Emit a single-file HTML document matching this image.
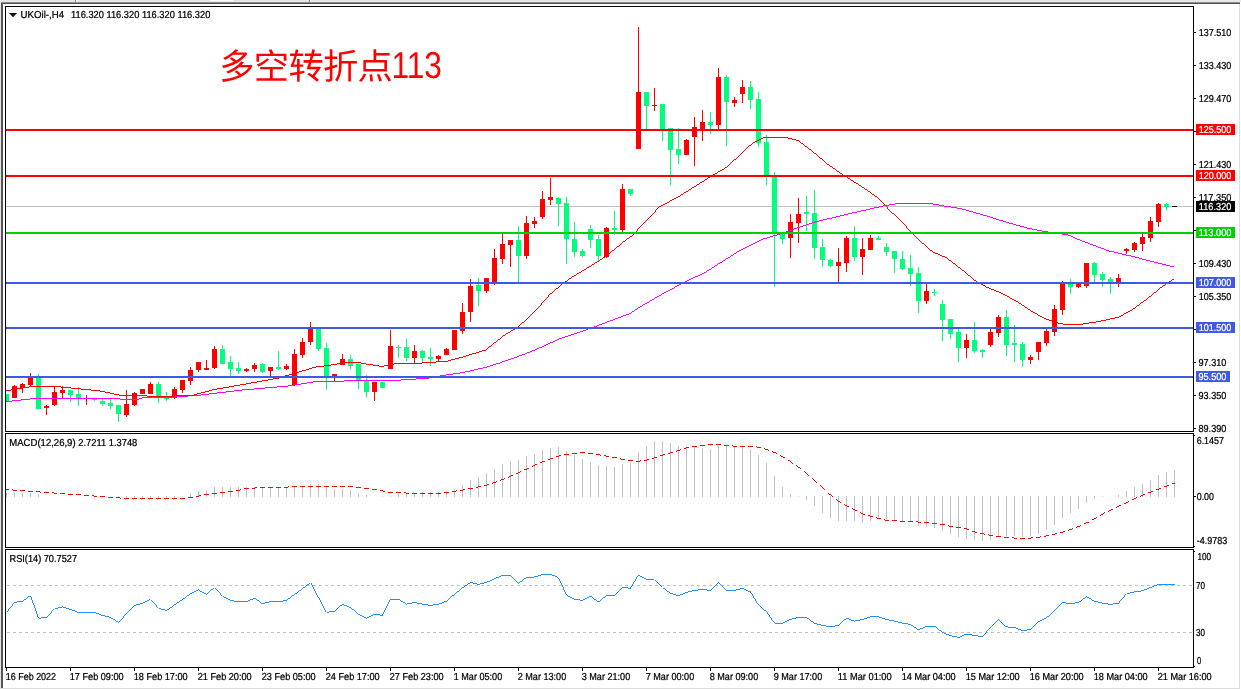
<!DOCTYPE html>
<html lang="zh"><head><meta charset="utf-8"><title>UKOil-,H4</title>
<style>html,body{margin:0;padding:0;background:#fff}body{width:1241px;height:690px;overflow:hidden;position:relative}svg{position:absolute;left:0;top:0;display:block;will-change:transform}text{font-family:"Liberation Sans",Arial,sans-serif;font-size:9px;fill:#000;stroke:#000;stroke-width:.22px;text-rendering:geometricPrecision}.w{fill:#fff;stroke:#fff}.cj{font-family:"Liberation Sans","Noto Sans CJK SC",sans-serif;font-size:35.3px;fill:#FF0000;stroke:none}</style></head><body>
<svg width="1241" height="690" viewBox="0 0 1241 690">
<rect x="0" y="0" width="1241" height="690" fill="#fff"/>
<g shape-rendering="crispEdges">
<rect x="0" y="0" width="1241" height="2" fill="#E6E6E6"/>
<rect x="210" y="0" width="23" height="1" fill="#FFFFFF"/>
<rect x="75" y="0" width="1" height="2" fill="#808080"/><rect x="76" y="0" width="1" height="2" fill="#FFFFFF"/>
<rect x="309" y="0" width="1" height="2" fill="#808080"/><rect x="310" y="0" width="1" height="2" fill="#FFFFFF"/>
<rect x="0" y="2" width="1240" height="1" fill="#8e8e8e"/><rect x="1" y="3" width="1239" height="1" fill="#505050"/>
<rect x="0" y="2" width="1" height="686" fill="#E6E6E6"/>
<rect x="1" y="3" width="2" height="685" fill="#555555"/>
<rect x="1239" y="4" width="1" height="685" fill="#DEDEDE"/>
<rect x="0" y="688" width="1240" height="1" fill="#DEDEDE"/>
</g>
<g shape-rendering="crispEdges">
<rect x="6" y="206" width="1187" height="1" fill="#C0C0C0"/>
</g>
<g shape-rendering="crispEdges">
<rect x="6" y="394" width="1" height="7" fill="#00FF7F"/>
<rect x="6" y="394" width="3" height="7" fill="#00FF7F"/>
<rect x="14" y="385" width="1" height="13" fill="#FF0000"/>
<rect x="12" y="386" width="5" height="12" fill="#FF0000"/>
<rect x="22" y="383" width="1" height="10" fill="#FF0000"/>
<rect x="20" y="384" width="5" height="4" fill="#FF0000"/>
<rect x="30" y="373" width="1" height="13" fill="#FF0000"/>
<rect x="28" y="378" width="5" height="7" fill="#FF0000"/>
<rect x="38" y="374" width="1" height="35" fill="#00FF7F"/>
<rect x="36" y="378" width="5" height="31" fill="#00FF7F"/>
<rect x="46" y="405" width="1" height="10" fill="#FF0000"/>
<rect x="44" y="406" width="5" height="2" fill="#FF0000"/>
<rect x="54" y="386" width="1" height="20" fill="#FF0000"/>
<rect x="52" y="392" width="5" height="13" fill="#FF0000"/>
<rect x="62" y="386" width="1" height="12" fill="#FF0000"/>
<rect x="60" y="390" width="5" height="3" fill="#FF0000"/>
<rect x="70" y="390" width="1" height="12" fill="#00FF7F"/>
<rect x="68" y="390" width="5" height="5" fill="#00FF7F"/>
<rect x="78" y="387" width="1" height="19" fill="#00FF7F"/>
<rect x="76" y="394" width="5" height="4" fill="#00FF7F"/>
<rect x="86" y="395" width="1" height="10" fill="#FF0000"/>
<rect x="94" y="398" width="1" height="3" fill="#00FF7F"/>
<rect x="92" y="398" width="5" height="2" fill="#00FF7F"/>
<rect x="102" y="399" width="1" height="7" fill="#00FF7F"/>
<rect x="100" y="401" width="5" height="3" fill="#00FF7F"/>
<rect x="110" y="399" width="1" height="10" fill="#00FF7F"/>
<rect x="108" y="403" width="5" height="3" fill="#00FF7F"/>
<rect x="118" y="405" width="1" height="17" fill="#00FF7F"/>
<rect x="116" y="405" width="5" height="9" fill="#00FF7F"/>
<rect x="126" y="390" width="1" height="27" fill="#FF0000"/>
<rect x="124" y="404" width="5" height="11" fill="#FF0000"/>
<rect x="134" y="392" width="1" height="14" fill="#FF0000"/>
<rect x="132" y="393" width="5" height="12" fill="#FF0000"/>
<rect x="142" y="389" width="1" height="5" fill="#FF0000"/>
<rect x="140" y="389" width="5" height="5" fill="#FF0000"/>
<rect x="150" y="382" width="1" height="12" fill="#FF0000"/>
<rect x="148" y="384" width="5" height="10" fill="#FF0000"/>
<rect x="158" y="382" width="1" height="21" fill="#00FF7F"/>
<rect x="156" y="384" width="5" height="12" fill="#00FF7F"/>
<rect x="166" y="392" width="1" height="9" fill="#00FF7F"/>
<rect x="164" y="397" width="5" height="2" fill="#00FF7F"/>
<rect x="174" y="387" width="1" height="12" fill="#FF0000"/>
<rect x="172" y="389" width="5" height="9" fill="#FF0000"/>
<rect x="182" y="380" width="1" height="13" fill="#FF0000"/>
<rect x="180" y="380" width="5" height="10" fill="#FF0000"/>
<rect x="190" y="367" width="1" height="18" fill="#FF0000"/>
<rect x="188" y="370" width="5" height="11" fill="#FF0000"/>
<rect x="198" y="362" width="1" height="10" fill="#FF0000"/>
<rect x="196" y="362" width="5" height="8" fill="#FF0000"/>
<rect x="206" y="360" width="1" height="10" fill="#FF0000"/>
<rect x="204" y="368" width="5" height="2" fill="#FF0000"/>
<rect x="214" y="346" width="1" height="23" fill="#FF0000"/>
<rect x="212" y="349" width="5" height="19" fill="#FF0000"/>
<rect x="222" y="345" width="1" height="19" fill="#00FF7F"/>
<rect x="220" y="349" width="5" height="15" fill="#00FF7F"/>
<rect x="230" y="356" width="1" height="20" fill="#00FF7F"/>
<rect x="228" y="362" width="5" height="7" fill="#00FF7F"/>
<rect x="238" y="362" width="1" height="12" fill="#00FF7F"/>
<rect x="236" y="368" width="5" height="3" fill="#00FF7F"/>
<rect x="246" y="368" width="1" height="4" fill="#FF0000"/>
<rect x="244" y="369" width="5" height="2" fill="#FF0000"/>
<rect x="254" y="363" width="1" height="9" fill="#FF0000"/>
<rect x="252" y="365" width="5" height="4" fill="#FF0000"/>
<rect x="262" y="363" width="1" height="10" fill="#00FF7F"/>
<rect x="260" y="364" width="5" height="8" fill="#00FF7F"/>
<rect x="270" y="367" width="1" height="9" fill="#FF0000"/>
<rect x="268" y="367" width="5" height="4" fill="#FF0000"/>
<rect x="278" y="351" width="1" height="19" fill="#00FF7F"/>
<rect x="276" y="367" width="5" height="2" fill="#00FF7F"/>
<rect x="286" y="364" width="1" height="6" fill="#FF0000"/>
<rect x="284" y="366" width="5" height="3" fill="#FF0000"/>
<rect x="294" y="349" width="1" height="36" fill="#FF0000"/>
<rect x="292" y="354" width="5" height="31" fill="#FF0000"/>
<rect x="302" y="338" width="1" height="20" fill="#FF0000"/>
<rect x="300" y="342" width="5" height="13" fill="#FF0000"/>
<rect x="310" y="322" width="1" height="23" fill="#FF0000"/>
<rect x="308" y="329" width="5" height="13" fill="#FF0000"/>
<rect x="318" y="329" width="1" height="22" fill="#00FF7F"/>
<rect x="316" y="329" width="5" height="20" fill="#00FF7F"/>
<rect x="326" y="343" width="1" height="47" fill="#00FF7F"/>
<rect x="324" y="348" width="5" height="28" fill="#00FF7F"/>
<rect x="334" y="374" width="1" height="7" fill="#FF0000"/>
<rect x="332" y="374" width="5" height="2" fill="#FF0000"/>
<rect x="342" y="354" width="1" height="11" fill="#FF0000"/>
<rect x="340" y="359" width="5" height="6" fill="#FF0000"/>
<rect x="350" y="355" width="1" height="14" fill="#00FF7F"/>
<rect x="348" y="359" width="5" height="7" fill="#00FF7F"/>
<rect x="358" y="362" width="1" height="27" fill="#00FF7F"/>
<rect x="356" y="364" width="5" height="16" fill="#00FF7F"/>
<rect x="366" y="375" width="1" height="22" fill="#00FF7F"/>
<rect x="364" y="380" width="5" height="12" fill="#00FF7F"/>
<rect x="374" y="382" width="1" height="19" fill="#FF0000"/>
<rect x="372" y="382" width="5" height="10" fill="#FF0000"/>
<rect x="382" y="382" width="1" height="6" fill="#00FF7F"/>
<rect x="380" y="382" width="5" height="6" fill="#00FF7F"/>
<rect x="390" y="330" width="1" height="39" fill="#FF0000"/>
<rect x="388" y="346" width="5" height="23" fill="#FF0000"/>
<rect x="398" y="345" width="1" height="13" fill="#00FF7F"/>
<rect x="396" y="347" width="5" height="1" fill="#00FF7F"/>
<rect x="406" y="339" width="1" height="22" fill="#00FF7F"/>
<rect x="404" y="347" width="5" height="11" fill="#00FF7F"/>
<rect x="414" y="345" width="1" height="18" fill="#FF0000"/>
<rect x="412" y="351" width="5" height="7" fill="#FF0000"/>
<rect x="422" y="350" width="1" height="13" fill="#00FF7F"/>
<rect x="420" y="351" width="5" height="7" fill="#00FF7F"/>
<rect x="430" y="348" width="1" height="18" fill="#00FF7F"/>
<rect x="428" y="357" width="5" height="2" fill="#00FF7F"/>
<rect x="438" y="355" width="1" height="6" fill="#FF0000"/>
<rect x="436" y="356" width="5" height="3" fill="#FF0000"/>
<rect x="446" y="348" width="1" height="7" fill="#FF0000"/>
<rect x="444" y="349" width="5" height="6" fill="#FF0000"/>
<rect x="454" y="330" width="1" height="20" fill="#FF0000"/>
<rect x="452" y="330" width="5" height="20" fill="#FF0000"/>
<rect x="462" y="303" width="1" height="31" fill="#FF0000"/>
<rect x="460" y="312" width="5" height="19" fill="#FF0000"/>
<rect x="470" y="279" width="1" height="43" fill="#FF0000"/>
<rect x="468" y="286" width="5" height="26" fill="#FF0000"/>
<rect x="478" y="278" width="1" height="28" fill="#00FF7F"/>
<rect x="476" y="285" width="5" height="6" fill="#00FF7F"/>
<rect x="486" y="278" width="1" height="15" fill="#FF0000"/>
<rect x="484" y="278" width="5" height="13" fill="#FF0000"/>
<rect x="494" y="249" width="1" height="36" fill="#FF0000"/>
<rect x="492" y="258" width="5" height="25" fill="#FF0000"/>
<rect x="502" y="234" width="1" height="30" fill="#FF0000"/>
<rect x="500" y="244" width="5" height="15" fill="#FF0000"/>
<rect x="510" y="240" width="1" height="27" fill="#FF0000"/>
<rect x="508" y="240" width="5" height="5" fill="#FF0000"/>
<rect x="518" y="226" width="1" height="56" fill="#00FF7F"/>
<rect x="516" y="240" width="5" height="16" fill="#00FF7F"/>
<rect x="526" y="216" width="1" height="43" fill="#FF0000"/>
<rect x="524" y="223" width="5" height="33" fill="#FF0000"/>
<rect x="534" y="217" width="1" height="11" fill="#FF0000"/>
<rect x="532" y="221" width="5" height="3" fill="#FF0000"/>
<rect x="542" y="191" width="1" height="28" fill="#FF0000"/>
<rect x="540" y="199" width="5" height="18" fill="#FF0000"/>
<rect x="550" y="178" width="1" height="27" fill="#FF0000"/>
<rect x="548" y="197" width="5" height="3" fill="#FF0000"/>
<rect x="558" y="197" width="1" height="29" fill="#00FF7F"/>
<rect x="556" y="198" width="5" height="6" fill="#00FF7F"/>
<rect x="566" y="197" width="1" height="67" fill="#00FF7F"/>
<rect x="564" y="203" width="5" height="36" fill="#00FF7F"/>
<rect x="574" y="222" width="1" height="35" fill="#00FF7F"/>
<rect x="572" y="239" width="5" height="13" fill="#00FF7F"/>
<rect x="582" y="249" width="1" height="8" fill="#00FF7F"/>
<rect x="580" y="251" width="5" height="5" fill="#00FF7F"/>
<rect x="590" y="225" width="1" height="23" fill="#00FF7F"/>
<rect x="588" y="229" width="5" height="11" fill="#00FF7F"/>
<rect x="598" y="235" width="1" height="26" fill="#00FF7F"/>
<rect x="596" y="239" width="5" height="17" fill="#00FF7F"/>
<rect x="606" y="227" width="1" height="31" fill="#FF0000"/>
<rect x="604" y="228" width="5" height="29" fill="#FF0000"/>
<rect x="614" y="211" width="1" height="24" fill="#00FF7F"/>
<rect x="612" y="228" width="5" height="2" fill="#00FF7F"/>
<rect x="622" y="184" width="1" height="48" fill="#FF0000"/>
<rect x="620" y="189" width="5" height="41" fill="#FF0000"/>
<rect x="630" y="189" width="1" height="7" fill="#00FF7F"/>
<rect x="628" y="189" width="5" height="5" fill="#00FF7F"/>
<rect x="638" y="27" width="1" height="122" fill="#FF0000"/>
<rect x="636" y="92" width="5" height="57" fill="#FF0000"/>
<rect x="646" y="92" width="1" height="37" fill="#00FF7F"/>
<rect x="644" y="92" width="5" height="14" fill="#00FF7F"/>
<rect x="654" y="88" width="1" height="23" fill="#FF0000"/>
<rect x="652" y="105" width="5" height="1" fill="#FF0000"/>
<rect x="662" y="104" width="1" height="37" fill="#00FF7F"/>
<rect x="660" y="104" width="5" height="25" fill="#00FF7F"/>
<rect x="670" y="128" width="1" height="57" fill="#00FF7F"/>
<rect x="668" y="128" width="5" height="22" fill="#00FF7F"/>
<rect x="678" y="128" width="1" height="36" fill="#00FF7F"/>
<rect x="676" y="149" width="5" height="6" fill="#00FF7F"/>
<rect x="686" y="139" width="1" height="16" fill="#FF0000"/>
<rect x="684" y="140" width="5" height="15" fill="#FF0000"/>
<rect x="694" y="117" width="1" height="49" fill="#FF0000"/>
<rect x="692" y="127" width="5" height="10" fill="#FF0000"/>
<rect x="702" y="110" width="1" height="31" fill="#FF0000"/>
<rect x="700" y="122" width="5" height="8" fill="#FF0000"/>
<rect x="710" y="112" width="1" height="22" fill="#00FF7F"/>
<rect x="708" y="122" width="5" height="3" fill="#00FF7F"/>
<rect x="718" y="68" width="1" height="61" fill="#FF0000"/>
<rect x="716" y="77" width="5" height="48" fill="#FF0000"/>
<rect x="726" y="75" width="1" height="71" fill="#00FF7F"/>
<rect x="724" y="77" width="5" height="25" fill="#00FF7F"/>
<rect x="734" y="97" width="1" height="10" fill="#FF0000"/>
<rect x="732" y="100" width="5" height="3" fill="#FF0000"/>
<rect x="742" y="80" width="1" height="23" fill="#FF0000"/>
<rect x="740" y="87" width="5" height="7" fill="#FF0000"/>
<rect x="750" y="81" width="1" height="28" fill="#00FF7F"/>
<rect x="748" y="87" width="5" height="13" fill="#00FF7F"/>
<rect x="758" y="92" width="1" height="55" fill="#00FF7F"/>
<rect x="756" y="99" width="5" height="44" fill="#00FF7F"/>
<rect x="766" y="135" width="1" height="50" fill="#00FF7F"/>
<rect x="764" y="142" width="5" height="33" fill="#00FF7F"/>
<rect x="774" y="172" width="1" height="115" fill="#00FF7F"/>
<rect x="772" y="176" width="5" height="58" fill="#00FF7F"/>
<rect x="782" y="234" width="1" height="10" fill="#00FF7F"/>
<rect x="780" y="234" width="5" height="5" fill="#00FF7F"/>
<rect x="790" y="214" width="1" height="44" fill="#FF0000"/>
<rect x="788" y="222" width="5" height="16" fill="#FF0000"/>
<rect x="798" y="198" width="1" height="45" fill="#FF0000"/>
<rect x="796" y="214" width="5" height="9" fill="#FF0000"/>
<rect x="806" y="196" width="1" height="35" fill="#00FF7F"/>
<rect x="804" y="212" width="5" height="2" fill="#00FF7F"/>
<rect x="814" y="190" width="1" height="69" fill="#00FF7F"/>
<rect x="812" y="213" width="5" height="35" fill="#00FF7F"/>
<rect x="822" y="239" width="1" height="28" fill="#00FF7F"/>
<rect x="820" y="247" width="5" height="13" fill="#00FF7F"/>
<rect x="830" y="259" width="1" height="8" fill="#00FF7F"/>
<rect x="828" y="260" width="5" height="6" fill="#00FF7F"/>
<rect x="838" y="248" width="1" height="34" fill="#FF0000"/>
<rect x="836" y="262" width="5" height="4" fill="#FF0000"/>
<rect x="846" y="236" width="1" height="36" fill="#FF0000"/>
<rect x="844" y="238" width="5" height="25" fill="#FF0000"/>
<rect x="854" y="226" width="1" height="35" fill="#00FF7F"/>
<rect x="852" y="238" width="5" height="19" fill="#00FF7F"/>
<rect x="862" y="238" width="1" height="37" fill="#FF0000"/>
<rect x="860" y="249" width="5" height="8" fill="#FF0000"/>
<rect x="870" y="235" width="1" height="15" fill="#FF0000"/>
<rect x="868" y="238" width="5" height="12" fill="#FF0000"/>
<rect x="878" y="236" width="1" height="4" fill="#00FF7F"/>
<rect x="876" y="238" width="5" height="2" fill="#00FF7F"/>
<rect x="886" y="243" width="1" height="13" fill="#00FF7F"/>
<rect x="884" y="247" width="5" height="5" fill="#00FF7F"/>
<rect x="894" y="251" width="1" height="22" fill="#00FF7F"/>
<rect x="892" y="251" width="5" height="8" fill="#00FF7F"/>
<rect x="902" y="251" width="1" height="19" fill="#00FF7F"/>
<rect x="900" y="259" width="5" height="10" fill="#00FF7F"/>
<rect x="910" y="255" width="1" height="31" fill="#00FF7F"/>
<rect x="908" y="268" width="5" height="6" fill="#00FF7F"/>
<rect x="918" y="267" width="1" height="46" fill="#00FF7F"/>
<rect x="916" y="273" width="5" height="28" fill="#00FF7F"/>
<rect x="926" y="284" width="1" height="20" fill="#FF0000"/>
<rect x="924" y="291" width="5" height="10" fill="#FF0000"/>
<rect x="934" y="289" width="1" height="7" fill="#00FF7F"/>
<rect x="932" y="292" width="5" height="1" fill="#00FF7F"/>
<rect x="942" y="300" width="1" height="41" fill="#00FF7F"/>
<rect x="940" y="304" width="5" height="16" fill="#00FF7F"/>
<rect x="950" y="319" width="1" height="20" fill="#00FF7F"/>
<rect x="948" y="319" width="5" height="15" fill="#00FF7F"/>
<rect x="958" y="329" width="1" height="33" fill="#00FF7F"/>
<rect x="956" y="332" width="5" height="16" fill="#00FF7F"/>
<rect x="966" y="334" width="1" height="24" fill="#FF0000"/>
<rect x="964" y="340" width="5" height="8" fill="#FF0000"/>
<rect x="974" y="322" width="1" height="31" fill="#00FF7F"/>
<rect x="972" y="340" width="5" height="11" fill="#00FF7F"/>
<rect x="982" y="349" width="1" height="9" fill="#00FF7F"/>
<rect x="980" y="350" width="5" height="2" fill="#00FF7F"/>
<rect x="990" y="329" width="1" height="18" fill="#FF0000"/>
<rect x="988" y="332" width="5" height="13" fill="#FF0000"/>
<rect x="998" y="315" width="1" height="22" fill="#FF0000"/>
<rect x="996" y="317" width="5" height="16" fill="#FF0000"/>
<rect x="1006" y="310" width="1" height="46" fill="#00FF7F"/>
<rect x="1004" y="317" width="5" height="28" fill="#00FF7F"/>
<rect x="1014" y="325" width="1" height="37" fill="#00FF7F"/>
<rect x="1012" y="343" width="5" height="2" fill="#00FF7F"/>
<rect x="1022" y="342" width="1" height="25" fill="#00FF7F"/>
<rect x="1020" y="344" width="5" height="16" fill="#00FF7F"/>
<rect x="1030" y="355" width="1" height="9" fill="#FF0000"/>
<rect x="1028" y="357" width="5" height="3" fill="#FF0000"/>
<rect x="1038" y="342" width="1" height="18" fill="#FF0000"/>
<rect x="1036" y="342" width="5" height="10" fill="#FF0000"/>
<rect x="1046" y="329" width="1" height="17" fill="#FF0000"/>
<rect x="1044" y="331" width="5" height="12" fill="#FF0000"/>
<rect x="1054" y="305" width="1" height="31" fill="#FF0000"/>
<rect x="1052" y="309" width="5" height="23" fill="#FF0000"/>
<rect x="1062" y="281" width="1" height="34" fill="#FF0000"/>
<rect x="1060" y="283" width="5" height="27" fill="#FF0000"/>
<rect x="1070" y="279" width="1" height="15" fill="#00FF7F"/>
<rect x="1068" y="283" width="5" height="4" fill="#00FF7F"/>
<rect x="1078" y="283" width="1" height="5" fill="#FF0000"/>
<rect x="1076" y="283" width="5" height="4" fill="#FF0000"/>
<rect x="1086" y="263" width="1" height="25" fill="#FF0000"/>
<rect x="1084" y="263" width="5" height="23" fill="#FF0000"/>
<rect x="1094" y="262" width="1" height="20" fill="#00FF7F"/>
<rect x="1092" y="263" width="5" height="12" fill="#00FF7F"/>
<rect x="1102" y="272" width="1" height="15" fill="#00FF7F"/>
<rect x="1100" y="274" width="5" height="6" fill="#00FF7F"/>
<rect x="1110" y="277" width="1" height="17" fill="#00FF7F"/>
<rect x="1108" y="279" width="5" height="3" fill="#00FF7F"/>
<rect x="1118" y="274" width="1" height="13" fill="#FF0000"/>
<rect x="1116" y="278" width="5" height="4" fill="#FF0000"/>
<rect x="1126" y="248" width="1" height="6" fill="#FF0000"/>
<rect x="1124" y="249" width="5" height="2" fill="#FF0000"/>
<rect x="1134" y="242" width="1" height="10" fill="#FF0000"/>
<rect x="1132" y="243" width="5" height="7" fill="#FF0000"/>
<rect x="1142" y="234" width="1" height="17" fill="#FF0000"/>
<rect x="1140" y="237" width="5" height="7" fill="#FF0000"/>
<rect x="1150" y="217" width="1" height="25" fill="#FF0000"/>
<rect x="1148" y="221" width="5" height="17" fill="#FF0000"/>
<rect x="1158" y="203" width="1" height="24" fill="#FF0000"/>
<rect x="1156" y="204" width="5" height="18" fill="#FF0000"/>
<rect x="1166" y="203" width="1" height="7" fill="#00FF7F"/>
<rect x="1164" y="204" width="5" height="3" fill="#00FF7F"/>
<rect x="1172" y="206" width="5" height="1" fill="#000"/>
</g>
<path d="M6.00 401.10L35.00 398.00L35.00 399.00L6.00 402.10ZM35.00 398.00L115.00 398.00L115.00 399.00L35.00 399.00ZM115.00 398.00L125.00 399.00L125.00 400.00L115.00 399.00ZM125.00 399.00L138.00 399.00L138.00 400.00L125.00 400.00ZM138.00 399.00L142.00 397.50L142.00 398.50L138.00 400.00ZM142.00 397.50L170.00 396.90L170.00 397.90L142.00 398.50ZM170.00 396.90L199.00 394.70L199.00 395.70L170.00 397.90ZM199.00 394.70L242.50 389.50L242.50 390.50L199.00 395.70ZM242.50 389.50L290.40 385.30L290.40 386.30L242.50 390.50ZM290.40 385.30L315.00 381.20L315.00 382.20L290.40 386.30ZM315.00 381.20L344.00 380.50L344.00 381.50L315.00 382.20ZM344.00 380.50L376.00 379.70L376.00 380.70L344.00 381.50ZM376.00 379.70L398.00 379.70L398.00 380.70L376.00 380.70ZM398.00 379.70L427.00 377.80L427.00 378.80L398.00 380.70ZM427.00 377.80L441.50 375.20L441.50 376.20L427.00 378.80ZM441.50 375.20L463.30 372.00L463.30 373.00L441.50 376.20ZM463.30 372.00L485.00 367.00L485.00 368.00L463.30 373.00ZM485.00 367.00L499.60 362.50L499.60 363.50L485.00 368.00ZM499.60 362.50L520.00 355.30L520.00 356.30L499.60 363.50ZM520.00 355.30L535.00 349.50L535.00 350.50L520.00 356.30ZM535.00 349.50L559.70 338.30L559.70 339.30L535.00 350.50ZM559.70 338.30L583.60 330.30L583.60 331.30L559.70 339.30ZM583.60 330.30L596.30 325.60L596.30 326.60L583.60 331.30ZM596.30 325.60L615.50 318.40L615.50 319.40L596.30 326.60ZM615.50 318.40L629.80 313.10L629.80 314.10L615.50 319.40ZM629.80 313.10L640.00 306.40L640.00 307.40L629.80 314.10ZM640.00 306.40L665.30 291.90L665.30 292.90L640.00 307.40ZM665.30 291.90L687.00 280.30L687.00 281.30L665.30 292.90ZM687.00 280.30L704.40 272.40L704.40 273.40L687.00 281.30ZM704.40 272.40L737.80 251.30L737.80 252.30L704.40 273.40ZM737.80 251.30L763.90 238.30L763.90 239.30L737.80 252.30ZM763.90 238.30L780.00 233.50L780.00 234.50L763.90 239.30ZM780.00 233.50L794.50 228.50L794.50 229.50L780.00 234.50ZM794.50 228.50L814.80 221.50L814.80 222.50L794.50 229.50ZM814.80 221.50L852.50 212.50L852.50 213.50L814.80 222.50ZM852.50 212.50L884.40 205.20L884.40 206.20L852.50 213.50ZM884.40 205.20L899.00 202.80L899.00 203.80L884.40 206.20ZM899.00 202.80L929.40 202.80L929.40 203.80L899.00 203.80ZM929.40 202.80L943.90 205.50L943.90 206.50L929.40 203.80ZM943.90 205.50L960.00 207.90L960.00 208.90L943.90 206.50ZM960.00 207.90L985.00 215.00L985.00 216.00L960.00 208.90ZM985.00 215.00L1010.00 222.80L1010.00 223.80L985.00 216.00ZM1010.00 222.80L1028.90 227.90L1028.90 228.90L1010.00 223.80ZM1028.90 227.90L1047.70 231.50L1047.70 232.50L1028.90 228.90ZM1047.70 231.50L1068.00 234.40L1068.00 235.40L1047.70 232.50ZM1068.00 234.40L1079.60 239.50L1079.60 240.50L1068.00 235.40ZM1079.60 239.50L1108.60 250.30L1108.60 251.30L1079.60 240.50ZM1108.60 250.30L1133.30 256.10L1133.30 257.10L1108.60 251.30ZM1133.30 256.10L1155.00 261.90L1155.00 262.90L1133.30 257.10ZM1155.00 261.90L1174.00 266.50L1174.00 267.50L1155.00 262.90Z" fill="#FF00FF" stroke="none" shape-rendering="crispEdges"/>
<path d="M6.00 390.30L35.00 385.50L35.00 386.50L6.00 391.30ZM35.00 385.50L51.00 385.50L51.00 386.50L35.00 386.50ZM51.00 385.50L99.00 390.30L99.00 391.30L51.00 386.50ZM99.00 390.30L123.00 395.30L123.00 396.30L99.00 391.30ZM123.00 395.30L170.00 395.70L170.00 396.70L123.00 396.30ZM170.00 395.70L193.00 394.70L193.00 395.70L170.00 396.70ZM193.00 394.70L213.50 389.20L213.50 390.20L193.00 395.70ZM213.50 389.20L242.50 384.10L242.50 385.10L213.50 390.20ZM242.50 384.10L278.80 377.50L278.80 378.50L242.50 385.10ZM278.80 377.50L290.40 374.00L290.40 375.00L278.80 378.50ZM290.40 374.00L315.00 366.70L315.00 367.70L290.40 375.00ZM315.00 366.70L329.60 364.80L329.60 365.80L315.00 367.70ZM329.60 364.80L345.00 362.00L345.00 363.00L329.60 365.80ZM345.00 362.00L360.00 362.20L360.00 363.20L345.00 363.00ZM360.00 362.20L366.00 363.50L366.00 364.50L360.00 363.20ZM366.00 363.50L382.00 365.90L382.00 366.90L366.00 364.50ZM382.00 365.90L393.70 363.50L393.70 364.50L382.00 366.90ZM393.70 363.50L409.60 363.30L409.60 364.30L393.70 364.50ZM409.60 363.30L427.00 362.20L427.00 363.20L409.60 364.30ZM427.00 362.20L447.00 360.70L447.00 361.70L427.00 363.20ZM447.00 360.70L463.00 356.40L463.00 357.40L447.00 361.70ZM463.00 356.40L485.60 349.50L485.60 350.50L463.00 357.40ZM485.60 349.50L503.90 335.10L503.90 336.10L485.60 350.50ZM503.90 335.10L518.20 326.40L518.20 327.40L503.90 336.10ZM518.20 326.40L527.80 317.60L527.80 318.60L518.20 327.40ZM527.80 317.60L539.00 306.40L539.00 307.40L527.80 318.60ZM538.50 306.90L549.60 294.20L550.60 294.20L539.50 306.90ZM550.10 293.70L561.30 284.40L561.30 285.40L550.10 294.70ZM561.30 284.40L569.20 278.50L569.20 279.50L561.30 285.40ZM569.20 278.50L583.60 269.80L583.60 270.80L569.20 279.50ZM583.60 269.80L597.90 261.00L597.90 262.00L583.60 270.80ZM597.90 261.00L607.50 254.60L607.50 255.60L597.90 262.00ZM607.50 254.60L620.00 244.30L620.00 245.30L607.50 255.60ZM620.00 244.30L625.80 239.50L625.80 240.50L620.00 245.30ZM625.80 239.50L631.80 235.50L631.80 236.50L625.80 240.50ZM631.30 236.00L658.80 207.00L659.80 207.00L632.30 236.00ZM659.30 206.50L679.60 195.50L679.60 196.50L659.30 207.50ZM679.60 195.50L711.50 175.50L711.50 176.50L679.60 196.50ZM711.50 175.50L726.00 167.10L726.00 168.10L711.50 176.50ZM726.00 167.10L740.50 154.00L740.50 155.00L726.00 168.10ZM740.50 154.00L751.60 143.50L751.60 144.50L740.50 155.00ZM751.60 143.50L761.80 137.80L761.80 138.80L751.60 144.50ZM761.80 137.80L766.00 136.50L766.00 137.50L761.80 138.80ZM766.00 136.50L783.50 136.50L783.50 137.50L766.00 137.50ZM783.50 136.50L798.00 140.00L798.00 141.00L783.50 137.50ZM798.00 140.00L812.50 150.80L812.50 151.80L798.00 141.00ZM812.50 150.80L827.00 163.20L827.00 164.20L812.50 151.80ZM827.00 163.20L841.50 173.30L841.50 174.30L827.00 164.20ZM841.50 173.30L863.30 187.10L863.30 188.10L841.50 174.30ZM863.30 187.10L877.80 197.30L877.80 198.30L863.30 188.10ZM877.30 197.80L888.90 210.00L889.90 210.00L878.30 197.80ZM889.40 209.50L903.30 222.90L903.30 223.90L889.40 210.50ZM902.80 223.40L914.40 236.40L915.40 236.40L903.80 223.40ZM914.90 235.90L932.30 251.10L932.30 252.10L914.90 236.90ZM932.30 251.10L946.80 257.50L946.80 258.50L932.30 252.10ZM946.80 257.50L962.40 269.50L962.40 270.50L946.80 258.50ZM962.40 269.50L975.40 280.40L975.40 281.40L962.40 270.50ZM975.40 280.40L987.00 286.90L987.00 287.90L975.40 281.40ZM987.00 286.90L1001.50 292.70L1001.50 293.70L987.00 287.90ZM1001.50 292.70L1016.00 300.50L1016.00 301.50L1001.50 293.70ZM1016.00 300.50L1030.50 310.10L1030.50 311.10L1016.00 301.50ZM1030.50 310.10L1045.00 318.10L1045.00 319.10L1030.50 311.10ZM1045.00 318.10L1059.60 322.90L1059.60 323.90L1045.00 319.10ZM1059.60 322.90L1068.30 324.30L1068.30 325.30L1059.60 323.90ZM1068.30 324.30L1081.70 323.80L1081.70 324.80L1068.30 325.30ZM1081.70 323.80L1097.40 321.20L1097.40 322.20L1081.70 324.80ZM1097.40 321.20L1118.30 316.90L1118.30 317.90L1097.40 322.20ZM1118.30 316.90L1133.90 308.20L1133.90 309.20L1118.30 317.90ZM1133.90 308.20L1147.80 297.80L1147.80 298.80L1133.90 309.20ZM1147.80 297.80L1161.70 286.50L1161.70 287.50L1147.80 298.80ZM1161.70 286.50L1174.00 278.50L1174.00 279.50L1161.70 287.50Z" fill="#FF0000" stroke="none" shape-rendering="crispEdges"/>
<g shape-rendering="crispEdges">
<rect x="6" y="129" width="1188" height="2" fill="#FF0000"/>
<rect x="6" y="175" width="1188" height="2" fill="#FF0000"/>
<rect x="6" y="232" width="1188" height="2" fill="#00D000"/>
<rect x="6" y="282" width="1188" height="2" fill="#3F5AE0"/>
<rect x="6" y="327" width="1188" height="2" fill="#3F5AE0"/>
<rect x="6" y="376" width="1188" height="2" fill="#3F5AE0"/>
</g>
<g shape-rendering="crispEdges">
<rect x="6" y="493" width="1" height="4" fill="#C0C0C0"/>
<rect x="14" y="493" width="1" height="4" fill="#C0C0C0"/>
<rect x="22" y="493" width="1" height="4" fill="#C0C0C0"/>
<rect x="30" y="493" width="1" height="4" fill="#C0C0C0"/>
<rect x="38" y="494" width="1" height="3" fill="#C0C0C0"/>
<rect x="118" y="496" width="1" height="2" fill="#C0C0C0"/>
<rect x="126" y="496" width="1" height="2" fill="#C0C0C0"/>
<rect x="134" y="496" width="1" height="2" fill="#C0C0C0"/>
<rect x="142" y="496" width="1" height="2" fill="#C0C0C0"/>
<rect x="150" y="496" width="1" height="2" fill="#C0C0C0"/>
<rect x="158" y="496" width="1" height="2" fill="#C0C0C0"/>
<rect x="166" y="496" width="1" height="2" fill="#C0C0C0"/>
<rect x="174" y="496" width="1" height="2" fill="#C0C0C0"/>
<rect x="182" y="496" width="1" height="1" fill="#D0D0D0"/>
<rect x="190" y="493" width="1" height="4" fill="#C0C0C0"/>
<rect x="198" y="491" width="1" height="6" fill="#C0C0C0"/>
<rect x="206" y="490" width="1" height="7" fill="#C0C0C0"/>
<rect x="214" y="487" width="1" height="10" fill="#C0C0C0"/>
<rect x="222" y="487" width="1" height="10" fill="#C0C0C0"/>
<rect x="230" y="487" width="1" height="10" fill="#C0C0C0"/>
<rect x="238" y="487" width="1" height="10" fill="#C0C0C0"/>
<rect x="246" y="487" width="1" height="10" fill="#C0C0C0"/>
<rect x="254" y="487" width="1" height="10" fill="#C0C0C0"/>
<rect x="262" y="487" width="1" height="10" fill="#C0C0C0"/>
<rect x="270" y="487" width="1" height="10" fill="#C0C0C0"/>
<rect x="278" y="487" width="1" height="10" fill="#C0C0C0"/>
<rect x="286" y="487" width="1" height="10" fill="#C0C0C0"/>
<rect x="294" y="487" width="1" height="10" fill="#C0C0C0"/>
<rect x="302" y="487" width="1" height="10" fill="#C0C0C0"/>
<rect x="310" y="484" width="1" height="13" fill="#C0C0C0"/>
<rect x="318" y="484" width="1" height="13" fill="#C0C0C0"/>
<rect x="326" y="486" width="1" height="11" fill="#C0C0C0"/>
<rect x="334" y="489" width="1" height="8" fill="#C0C0C0"/>
<rect x="342" y="489" width="1" height="8" fill="#C0C0C0"/>
<rect x="350" y="490" width="1" height="7" fill="#C0C0C0"/>
<rect x="358" y="493" width="1" height="4" fill="#C0C0C0"/>
<rect x="366" y="495" width="1" height="2" fill="#C0C0C0"/>
<rect x="382" y="496" width="1" height="1" fill="#D0D0D0"/>
<rect x="390" y="496" width="1" height="1" fill="#D0D0D0"/>
<rect x="398" y="494" width="1" height="3" fill="#C0C0C0"/>
<rect x="406" y="494" width="1" height="3" fill="#C0C0C0"/>
<rect x="414" y="493" width="1" height="4" fill="#C0C0C0"/>
<rect x="422" y="492" width="1" height="5" fill="#C0C0C0"/>
<rect x="430" y="492" width="1" height="5" fill="#C0C0C0"/>
<rect x="438" y="492" width="1" height="5" fill="#C0C0C0"/>
<rect x="446" y="491" width="1" height="6" fill="#C0C0C0"/>
<rect x="454" y="489" width="1" height="8" fill="#C0C0C0"/>
<rect x="462" y="485" width="1" height="12" fill="#C0C0C0"/>
<rect x="470" y="480" width="1" height="17" fill="#C0C0C0"/>
<rect x="478" y="477" width="1" height="20" fill="#C0C0C0"/>
<rect x="486" y="473" width="1" height="24" fill="#C0C0C0"/>
<rect x="494" y="469" width="1" height="28" fill="#C0C0C0"/>
<rect x="502" y="464" width="1" height="33" fill="#C0C0C0"/>
<rect x="510" y="461" width="1" height="36" fill="#C0C0C0"/>
<rect x="518" y="460" width="1" height="37" fill="#C0C0C0"/>
<rect x="526" y="456" width="1" height="41" fill="#C0C0C0"/>
<rect x="534" y="454" width="1" height="43" fill="#C0C0C0"/>
<rect x="542" y="450" width="1" height="47" fill="#C0C0C0"/>
<rect x="550" y="448" width="1" height="49" fill="#C0C0C0"/>
<rect x="558" y="447" width="1" height="50" fill="#C0C0C0"/>
<rect x="566" y="451" width="1" height="46" fill="#C0C0C0"/>
<rect x="574" y="455" width="1" height="42" fill="#C0C0C0"/>
<rect x="582" y="459" width="1" height="38" fill="#C0C0C0"/>
<rect x="590" y="462" width="1" height="35" fill="#C0C0C0"/>
<rect x="598" y="465" width="1" height="32" fill="#C0C0C0"/>
<rect x="606" y="466" width="1" height="31" fill="#C0C0C0"/>
<rect x="614" y="467" width="1" height="30" fill="#C0C0C0"/>
<rect x="622" y="464" width="1" height="33" fill="#C0C0C0"/>
<rect x="630" y="463" width="1" height="34" fill="#C0C0C0"/>
<rect x="638" y="452" width="1" height="45" fill="#C0C0C0"/>
<rect x="646" y="446" width="1" height="51" fill="#C0C0C0"/>
<rect x="654" y="441" width="1" height="56" fill="#C0C0C0"/>
<rect x="662" y="441" width="1" height="56" fill="#C0C0C0"/>
<rect x="670" y="443" width="1" height="54" fill="#C0C0C0"/>
<rect x="678" y="446" width="1" height="51" fill="#C0C0C0"/>
<rect x="686" y="448" width="1" height="49" fill="#C0C0C0"/>
<rect x="694" y="448" width="1" height="49" fill="#C0C0C0"/>
<rect x="702" y="448" width="1" height="49" fill="#C0C0C0"/>
<rect x="710" y="449" width="1" height="48" fill="#C0C0C0"/>
<rect x="718" y="446" width="1" height="51" fill="#C0C0C0"/>
<rect x="726" y="446" width="1" height="51" fill="#C0C0C0"/>
<rect x="734" y="447" width="1" height="50" fill="#C0C0C0"/>
<rect x="742" y="447" width="1" height="50" fill="#C0C0C0"/>
<rect x="750" y="449" width="1" height="48" fill="#C0C0C0"/>
<rect x="758" y="455" width="1" height="42" fill="#C0C0C0"/>
<rect x="766" y="463" width="1" height="34" fill="#C0C0C0"/>
<rect x="774" y="476" width="1" height="21" fill="#C0C0C0"/>
<rect x="782" y="487" width="1" height="10" fill="#C0C0C0"/>
<rect x="790" y="494" width="1" height="3" fill="#C0C0C0"/>
<rect x="798" y="496" width="1" height="1" fill="#D0D0D0"/>
<rect x="806" y="496" width="1" height="4" fill="#C0C0C0"/>
<rect x="814" y="496" width="1" height="10" fill="#C0C0C0"/>
<rect x="822" y="496" width="1" height="17" fill="#C0C0C0"/>
<rect x="830" y="496" width="1" height="22" fill="#C0C0C0"/>
<rect x="838" y="496" width="1" height="25" fill="#C0C0C0"/>
<rect x="846" y="496" width="1" height="25" fill="#C0C0C0"/>
<rect x="854" y="496" width="1" height="25" fill="#C0C0C0"/>
<rect x="862" y="496" width="1" height="27" fill="#C0C0C0"/>
<rect x="870" y="496" width="1" height="25" fill="#C0C0C0"/>
<rect x="878" y="496" width="1" height="23" fill="#C0C0C0"/>
<rect x="886" y="496" width="1" height="24" fill="#C0C0C0"/>
<rect x="894" y="496" width="1" height="25" fill="#C0C0C0"/>
<rect x="902" y="496" width="1" height="25" fill="#C0C0C0"/>
<rect x="910" y="496" width="1" height="26" fill="#C0C0C0"/>
<rect x="918" y="496" width="1" height="30" fill="#C0C0C0"/>
<rect x="926" y="496" width="1" height="31" fill="#C0C0C0"/>
<rect x="934" y="496" width="1" height="32" fill="#C0C0C0"/>
<rect x="942" y="496" width="1" height="35" fill="#C0C0C0"/>
<rect x="950" y="496" width="1" height="38" fill="#C0C0C0"/>
<rect x="958" y="496" width="1" height="41" fill="#C0C0C0"/>
<rect x="966" y="496" width="1" height="43" fill="#C0C0C0"/>
<rect x="974" y="496" width="1" height="44" fill="#C0C0C0"/>
<rect x="982" y="496" width="1" height="45" fill="#C0C0C0"/>
<rect x="990" y="496" width="1" height="44" fill="#C0C0C0"/>
<rect x="998" y="496" width="1" height="41" fill="#C0C0C0"/>
<rect x="1006" y="496" width="1" height="40" fill="#C0C0C0"/>
<rect x="1014" y="496" width="1" height="40" fill="#C0C0C0"/>
<rect x="1022" y="496" width="1" height="41" fill="#C0C0C0"/>
<rect x="1030" y="496" width="1" height="40" fill="#C0C0C0"/>
<rect x="1038" y="496" width="1" height="38" fill="#C0C0C0"/>
<rect x="1046" y="496" width="1" height="34" fill="#C0C0C0"/>
<rect x="1054" y="496" width="1" height="29" fill="#C0C0C0"/>
<rect x="1062" y="496" width="1" height="22" fill="#C0C0C0"/>
<rect x="1070" y="496" width="1" height="17" fill="#C0C0C0"/>
<rect x="1078" y="496" width="1" height="13" fill="#C0C0C0"/>
<rect x="1086" y="496" width="1" height="7" fill="#C0C0C0"/>
<rect x="1094" y="496" width="1" height="3" fill="#C0C0C0"/>
<rect x="1102" y="496" width="1" height="1" fill="#D0D0D0"/>
<rect x="1118" y="495" width="1" height="2" fill="#C0C0C0"/>
<rect x="1126" y="491" width="1" height="6" fill="#C0C0C0"/>
<rect x="1134" y="487" width="1" height="10" fill="#C0C0C0"/>
<rect x="1142" y="484" width="1" height="13" fill="#C0C0C0"/>
<rect x="1150" y="480" width="1" height="17" fill="#C0C0C0"/>
<rect x="1158" y="475" width="1" height="22" fill="#C0C0C0"/>
<rect x="1166" y="472" width="1" height="25" fill="#C0C0C0"/>
<rect x="1174" y="470" width="1" height="27" fill="#C0C0C0"/>
</g>
<path d="M6.00 489.00L9.00 489.23L9.00 490.23L6.00 490.00ZM12.00 489.45L17.00 489.83L17.00 490.83L12.00 490.45ZM20.00 490.06L25.00 490.43L25.00 491.43L20.00 491.06ZM28.00 490.66L33.00 491.04L33.00 492.04L28.00 491.66ZM36.00 491.25L41.00 491.60L41.00 492.60L36.00 492.25ZM44.00 491.81L49.00 492.16L49.00 493.16L44.00 492.81ZM52.00 492.38L57.00 492.73L57.00 493.73L52.00 493.38ZM60.00 492.94L65.00 493.29L65.00 494.29L60.00 493.94ZM68.00 493.51L73.00 493.86L73.00 494.86L68.00 494.51ZM76.00 494.08L81.00 494.49L81.00 495.49L76.00 495.08ZM84.00 494.73L89.00 495.14L89.00 496.14L84.00 495.73ZM92.00 495.38L97.00 495.78L97.00 496.78L92.00 496.38ZM100.00 496.03L105.00 496.43L105.00 497.43L100.00 497.03ZM108.00 496.68L113.00 497.07L113.00 498.07L108.00 497.68ZM116.00 497.27L121.00 497.60L121.00 498.60L116.00 498.27ZM124.00 497.80L129.00 498.13L129.00 499.13L124.00 498.80ZM132.00 498.20L137.00 498.20L137.00 499.20L132.00 499.20ZM140.00 498.20L145.00 498.20L145.00 499.20L140.00 499.20ZM148.00 498.20L153.00 498.20L153.00 499.20L148.00 499.20ZM156.00 498.20L161.00 498.20L161.00 499.20L156.00 499.20ZM164.00 498.20L169.00 498.20L169.00 499.20L164.00 499.20ZM172.00 498.20L177.00 498.20L177.00 499.20L172.00 499.20ZM180.00 498.20L185.00 498.20L185.00 499.20L180.00 499.20ZM188.00 497.60L193.00 496.60L193.00 497.60L188.00 498.60ZM196.00 496.00L201.00 495.03L201.00 496.03L196.00 497.00ZM204.00 494.53L209.00 493.70L209.00 494.70L204.00 495.53ZM212.00 493.20L217.00 492.47L217.00 493.47L212.00 494.20ZM220.00 492.13L225.00 491.56L225.00 492.56L220.00 493.13ZM228.00 491.22L233.00 490.65L233.00 491.65L228.00 492.22ZM236.00 490.31L241.00 489.20L241.00 490.20L236.00 491.31ZM244.00 488.45L249.00 487.65L249.00 488.65L244.00 489.45ZM252.00 487.57L257.00 487.45L257.00 488.45L252.00 488.57ZM260.00 487.38L265.00 487.25L265.00 488.25L260.00 488.38ZM268.00 487.18L273.00 487.05L273.00 488.05L268.00 488.18ZM276.00 486.96L281.00 486.78L281.00 487.78L276.00 487.96ZM284.00 486.67L289.00 486.48L289.00 487.48L284.00 487.67ZM292.00 486.37L297.00 486.18L297.00 487.18L292.00 487.37ZM300.00 486.07L305.00 485.89L305.00 486.89L300.00 487.07ZM308.00 485.77L313.00 485.70L313.00 486.70L308.00 486.77ZM316.00 485.70L321.00 485.70L321.00 486.70L316.00 486.70ZM324.00 485.70L329.00 485.70L329.00 486.70L324.00 486.70ZM332.00 485.70L337.00 485.70L337.00 486.70L332.00 486.70ZM340.00 485.70L345.00 485.70L345.00 486.70L340.00 486.70ZM348.00 485.70L353.00 486.10L353.00 487.10L348.00 486.70ZM356.00 486.49L361.00 487.15L361.00 488.15L356.00 487.49ZM364.00 487.55L369.00 488.21L369.00 489.21L364.00 488.55ZM372.00 488.60L377.00 489.40L377.00 490.40L372.00 489.60ZM380.00 490.00L385.00 491.00L385.00 492.00L380.00 491.00ZM388.00 491.60L393.00 492.09L393.00 493.09L388.00 492.60ZM396.00 492.19L401.00 492.34L401.00 493.34L396.00 493.19ZM404.00 492.44L409.00 492.59L409.00 493.59L404.00 493.44ZM412.00 492.69L417.00 492.70L417.00 493.70L412.00 493.69ZM420.00 492.70L425.00 492.70L425.00 493.70L420.00 493.70ZM428.00 492.70L433.00 492.70L433.00 493.70L428.00 493.70ZM436.00 492.70L441.00 492.57L441.00 493.57L436.00 493.70ZM444.00 492.16L449.00 491.49L449.00 492.49L444.00 493.16ZM452.00 491.09L457.00 490.42L457.00 491.42L452.00 492.09ZM460.00 490.02L465.00 489.18L465.00 490.18L460.00 491.02ZM468.00 488.58L473.00 487.58L473.00 488.58L468.00 489.58ZM476.00 486.98L481.00 485.98L481.00 486.98L476.00 487.98ZM484.00 485.38L489.00 484.09L489.00 485.09L484.00 486.38ZM492.00 482.94L497.00 481.04L497.00 482.04L492.00 483.94ZM500.00 479.89L505.00 477.99L505.00 478.99L500.00 480.89ZM508.00 476.84L513.00 474.87L513.00 475.87L508.00 477.84ZM516.00 473.47L521.00 471.13L521.00 472.13L516.00 474.47ZM524.00 469.72L529.00 467.38L529.00 468.38L524.00 470.72ZM532.00 465.98L537.00 463.64L537.00 464.64L532.00 466.98ZM540.00 462.45L545.00 460.50L545.00 461.50L540.00 463.45ZM548.00 459.33L553.00 457.38L553.00 458.38L548.00 460.33ZM556.00 456.21L561.00 455.05L561.00 456.05L556.00 457.21ZM564.00 454.52L569.00 453.64L569.00 454.64L564.00 455.52ZM572.00 453.24L577.00 452.64L577.00 453.64L572.00 454.24ZM580.00 452.28L585.00 452.38L585.00 453.38L580.00 453.28ZM588.00 452.81L593.00 453.51L593.00 454.51L588.00 453.81ZM596.00 453.94L601.00 454.66L601.00 455.66L596.00 454.94ZM604.00 455.14L609.00 455.94L609.00 456.94L604.00 456.14ZM612.00 456.42L617.00 457.58L617.00 458.58L612.00 457.42ZM620.00 458.30L625.00 459.50L625.00 460.50L620.00 459.30ZM628.00 459.86L633.00 460.46L633.00 461.46L628.00 460.86ZM636.00 460.82L641.00 460.44L641.00 461.44L636.00 461.82ZM644.00 459.96L649.00 459.16L649.00 460.16L644.00 460.96ZM652.00 458.31L657.00 456.59L657.00 457.59L652.00 459.31ZM660.00 455.56L665.00 453.96L665.00 454.96L660.00 456.56ZM668.00 453.07L673.00 451.59L673.00 452.59L668.00 454.07ZM676.00 450.68L681.00 449.06L681.00 450.06L676.00 451.68ZM684.00 448.10L689.00 446.77L689.00 447.77L684.00 449.10ZM692.00 446.34L697.00 445.63L697.00 446.63L692.00 447.34ZM700.00 445.20L705.00 444.72L705.00 445.72L700.00 446.20ZM708.00 444.43L713.00 444.03L713.00 445.03L708.00 445.43ZM716.00 444.20L721.00 444.48L721.00 445.48L716.00 445.20ZM724.00 444.64L729.00 445.12L729.00 446.12L724.00 445.64ZM732.00 445.43L737.00 445.96L737.00 446.96L732.00 446.43ZM740.00 446.06L745.00 446.17L745.00 447.17L740.00 447.06ZM748.00 446.23L753.00 446.35L753.00 447.35L748.00 447.23ZM756.00 446.41L761.00 446.87L761.00 447.87L756.00 447.41ZM764.00 447.97L769.00 449.80L769.00 450.80L764.00 448.97ZM772.00 450.90L777.00 453.13L777.00 454.13L772.00 451.90ZM780.00 454.82L785.00 457.65L785.00 458.65L780.00 455.82ZM788.00 459.41L793.00 462.87L793.00 463.87L788.00 460.41ZM796.00 464.94L801.00 468.51L801.00 469.51L796.00 465.94ZM804.00 470.95L809.00 475.02L809.00 476.02L804.00 471.95ZM812.00 477.46L817.00 482.14L817.00 483.14L812.00 478.46ZM820.00 484.97L825.00 489.67L825.00 490.67L820.00 485.97ZM828.00 492.24L833.00 496.52L833.00 497.52L828.00 493.24ZM836.00 499.09L841.00 502.15L841.00 503.15L836.00 500.09ZM844.00 503.73L849.00 506.37L849.00 507.37L844.00 504.73ZM852.00 507.97L857.00 510.66L857.00 511.66L852.00 508.97ZM860.00 512.27L865.00 514.23L865.00 515.23L860.00 513.27ZM868.00 515.05L873.00 516.41L873.00 517.41L868.00 516.05ZM876.00 517.22L881.00 518.54L881.00 519.54L876.00 518.22ZM884.00 519.33L889.00 520.25L889.00 521.25L884.00 520.33ZM892.00 520.34L897.00 520.50L897.00 521.50L892.00 521.34ZM900.00 520.59L905.00 520.75L905.00 521.75L900.00 521.59ZM908.00 520.84L913.00 521.12L913.00 522.12L908.00 521.84ZM916.00 521.35L921.00 521.72L921.00 522.72L916.00 522.35ZM924.00 521.94L929.00 522.37L929.00 523.37L924.00 522.94ZM932.00 522.71L937.00 523.28L937.00 524.28L932.00 523.71ZM940.00 523.62L945.00 524.57L945.00 525.57L940.00 524.62ZM948.00 525.37L953.00 526.26L953.00 527.26L948.00 526.37ZM956.00 526.62L961.00 527.22L961.00 528.22L956.00 527.62ZM964.00 527.58L969.00 529.38L969.00 530.38L964.00 528.58ZM972.00 530.64L977.00 532.27L977.00 533.27L972.00 531.64ZM980.00 532.83L985.00 533.77L985.00 534.77L980.00 533.83ZM988.00 534.33L993.00 535.14L993.00 536.14L988.00 535.33ZM996.00 535.57L1001.00 536.30L1001.00 537.30L996.00 536.57ZM1004.00 536.65L1009.00 537.13L1009.00 538.13L1004.00 537.65ZM1012.00 537.41L1017.00 537.70L1017.00 538.70L1012.00 538.41ZM1020.00 537.70L1025.00 537.70L1025.00 538.70L1020.00 538.70ZM1028.00 537.70L1033.00 537.34L1033.00 538.34L1028.00 538.70ZM1036.00 536.98L1041.00 536.38L1041.00 537.38L1036.00 537.98ZM1044.00 536.02L1049.00 534.98L1049.00 535.98L1044.00 537.02ZM1052.00 534.29L1057.00 533.14L1057.00 534.14L1052.00 535.29ZM1060.00 532.45L1065.00 530.96L1065.00 531.96L1060.00 533.45ZM1068.00 529.88L1073.00 528.08L1073.00 529.08L1068.00 530.88ZM1076.00 527.00L1081.00 524.90L1081.00 525.90L1076.00 528.00ZM1084.00 523.57L1089.00 521.34L1089.00 522.34L1084.00 524.57ZM1092.00 519.70L1097.00 516.69L1097.00 517.69L1092.00 520.70ZM1100.00 514.88L1105.00 512.22L1105.00 513.22L1100.00 515.88ZM1108.00 510.80L1113.00 508.43L1113.00 509.43L1108.00 511.80ZM1116.00 507.00L1121.00 504.64L1121.00 505.64L1116.00 508.00ZM1124.00 503.25L1129.00 500.92L1129.00 501.92L1124.00 504.25ZM1132.00 499.53L1137.00 497.20L1137.00 498.20L1132.00 500.53ZM1140.00 495.82L1145.00 493.85L1145.00 494.85L1140.00 496.82ZM1148.00 492.67L1153.00 490.70L1153.00 491.70L1148.00 493.67ZM1156.00 489.51L1161.00 487.63L1161.00 488.63L1156.00 490.51ZM1164.00 486.52L1169.00 484.66L1169.00 485.66L1164.00 487.52ZM1172.00 483.55L1174.50 482.70L1174.50 483.70L1172.00 484.55Z" fill="#FF0000" stroke="none" shape-rendering="crispEdges"/>
<g shape-rendering="crispEdges">
<line x1="7" y1="585.5" x2="1193" y2="585.5" stroke="#C0C0C0" stroke-width="1" stroke-dasharray="3 3"/>
<line x1="7" y1="632.5" x2="1193" y2="632.5" stroke="#C0C0C0" stroke-width="1" stroke-dasharray="3 3"/>
</g>
<path d="M6.00 612.45L14.00 602.46L15.00 602.46L7.00 612.45ZM14.50 601.96L22.50 600.71L22.50 601.71L14.50 602.96ZM22.50 600.71L30.50 594.96L30.50 595.96L22.50 601.71ZM30.00 595.46L38.00 618.20L39.00 618.20L31.00 595.46ZM38.50 617.70L46.50 616.95L46.50 617.95L38.50 618.70ZM46.00 617.45L54.00 608.70L55.00 608.70L47.00 617.45ZM54.50 608.20L62.50 606.45L62.50 607.45L54.50 609.20ZM62.50 606.45L70.50 608.95L70.50 609.95L62.50 607.45ZM70.50 608.95L78.50 611.95L78.50 612.95L70.50 609.95ZM78.50 611.95L86.50 611.95L86.50 612.95L78.50 612.95ZM86.50 611.95L94.50 611.95L94.50 612.95L86.50 612.95ZM94.50 611.95L102.50 614.95L102.50 615.95L94.50 612.95ZM102.50 614.95L110.50 616.95L110.50 617.95L102.50 615.95ZM110.50 616.95L118.50 621.94L118.50 622.94L110.50 617.95ZM118.00 622.44L126.00 613.70L127.00 613.70L119.00 622.44ZM126.00 613.70L134.00 605.45L135.00 605.45L127.00 613.70ZM134.50 604.95L142.50 602.71L142.50 603.71L134.50 605.95ZM142.50 602.71L150.50 598.71L150.50 599.71L142.50 603.71ZM150.00 599.21L158.00 608.20L159.00 608.20L151.00 599.21ZM158.50 607.70L166.50 609.95L166.50 610.95L158.50 608.70ZM166.50 609.95L174.50 604.46L174.50 605.46L166.50 610.95ZM174.50 604.46L182.50 598.96L182.50 599.96L174.50 605.46ZM182.50 598.96L190.50 593.21L190.50 594.21L182.50 599.96ZM190.50 593.21L198.50 589.47L198.50 590.47L190.50 594.21ZM198.50 589.47L206.50 593.71L206.50 594.71L198.50 590.47ZM206.50 593.71L214.50 586.97L214.50 587.97L206.50 594.71ZM214.00 587.47L222.00 596.21L223.00 596.21L215.00 587.47ZM222.50 595.71L230.50 599.96L230.50 600.96L222.50 596.71ZM230.50 599.96L238.50 601.21L238.50 602.21L230.50 600.96ZM238.50 601.21L246.50 601.21L246.50 602.21L238.50 602.21ZM246.50 601.21L254.50 597.71L254.50 598.71L246.50 602.21ZM254.50 597.71L262.50 603.21L262.50 604.21L254.50 598.71ZM262.50 603.21L270.50 601.21L270.50 602.21L262.50 604.21ZM270.50 601.21L278.50 601.21L278.50 602.21L270.50 602.21ZM278.50 601.21L286.50 599.96L286.50 600.96L278.50 602.21ZM286.50 599.96L294.50 593.96L294.50 594.96L286.50 600.96ZM294.50 593.96L302.50 588.22L302.50 589.22L294.50 594.96ZM302.50 588.22L310.50 581.97L310.50 582.97L302.50 589.22ZM310.00 582.47L318.00 597.46L319.00 597.46L311.00 582.47ZM318.00 597.46L326.00 612.45L327.00 612.45L319.00 597.46ZM326.50 611.95L334.50 610.70L334.50 611.70L326.50 612.95ZM334.50 610.70L342.50 603.71L342.50 604.71L334.50 611.70ZM342.50 603.71L350.50 606.95L350.50 607.95L342.50 604.71ZM350.50 606.95L358.50 613.70L358.50 614.70L350.50 607.95ZM358.50 613.70L366.50 617.70L366.50 618.70L358.50 614.70ZM366.50 617.70L374.50 613.70L374.50 614.70L366.50 618.70ZM374.50 613.70L382.50 614.95L382.50 615.95L374.50 614.70ZM382.00 615.45L390.00 599.21L391.00 599.21L383.00 615.45ZM390.50 598.71L398.50 598.71L398.50 599.71L390.50 599.71ZM398.50 598.71L406.50 603.71L406.50 604.71L398.50 599.71ZM406.50 603.71L414.50 601.96L414.50 602.96L406.50 604.71ZM414.50 601.96L422.50 603.71L422.50 604.71L414.50 602.96ZM422.50 603.71L430.50 604.95L430.50 605.95L422.50 604.71ZM430.50 604.95L438.50 603.71L438.50 604.71L430.50 605.95ZM438.50 603.71L446.50 600.71L446.50 601.71L438.50 604.71ZM446.50 600.71L454.50 593.71L454.50 594.71L446.50 601.71ZM454.50 593.71L462.50 587.47L462.50 588.47L454.50 594.71ZM462.50 587.47L470.50 581.97L470.50 582.97L462.50 588.47ZM470.50 581.97L478.50 583.97L478.50 584.97L470.50 582.97ZM478.50 583.97L486.50 581.97L486.50 582.97L478.50 584.97ZM486.50 581.97L494.50 578.22L494.50 579.22L486.50 582.97ZM494.50 578.22L502.50 574.98L502.50 575.98L494.50 579.22ZM502.50 574.98L510.50 574.98L510.50 575.98L502.50 575.98ZM510.50 574.98L518.50 582.72L518.50 583.72L510.50 575.98ZM518.50 582.72L526.50 576.98L526.50 577.98L518.50 583.72ZM526.50 576.98L534.50 576.48L534.50 577.48L526.50 577.98ZM534.50 576.48L542.50 573.98L542.50 574.98L534.50 577.48ZM542.50 573.98L550.50 573.98L550.50 574.98L542.50 574.98ZM550.50 573.98L558.50 576.98L558.50 577.98L550.50 574.98ZM558.00 577.48L566.00 594.96L567.00 594.96L559.00 577.48ZM566.50 594.46L574.50 598.71L574.50 599.71L566.50 595.46ZM574.50 598.71L582.50 599.96L582.50 600.96L574.50 599.71ZM582.50 599.96L590.50 595.71L590.50 596.71L582.50 600.96ZM590.50 595.71L598.50 601.46L598.50 602.46L590.50 596.71ZM598.50 601.46L606.50 594.96L606.50 595.96L598.50 602.46ZM606.50 594.96L614.50 594.96L614.50 595.96L606.50 595.96ZM614.50 594.96L622.50 586.97L622.50 587.97L614.50 595.96ZM622.50 586.97L630.50 587.72L630.50 588.72L622.50 587.97ZM630.00 588.22L638.00 574.98L639.00 574.98L631.00 588.22ZM638.50 574.48L646.50 578.72L646.50 579.72L638.50 575.48ZM646.50 578.72L654.50 578.72L654.50 579.72L646.50 579.72ZM654.00 579.22L662.00 587.47L663.00 587.47L655.00 579.22ZM662.50 586.97L670.50 592.71L670.50 593.71L662.50 587.97ZM670.50 592.71L678.50 595.21L678.50 596.21L670.50 593.71ZM678.50 595.21L686.50 591.96L686.50 592.96L678.50 596.21ZM686.50 591.96L694.50 589.97L694.50 590.97L686.50 592.96ZM694.50 589.97L702.50 588.97L702.50 589.97L694.50 590.97ZM702.50 588.97L710.50 589.97L710.50 590.97L702.50 589.97ZM710.50 589.97L718.50 581.97L718.50 582.97L710.50 590.97ZM718.50 581.97L726.50 589.97L726.50 590.97L718.50 582.97ZM726.50 589.97L734.50 589.97L734.50 590.97L726.50 590.97ZM734.50 589.97L742.50 587.72L742.50 588.72L734.50 590.97ZM742.50 587.72L750.50 591.46L750.50 592.46L742.50 588.72ZM750.00 591.96L758.00 604.96L759.00 604.96L751.00 591.96ZM758.50 604.46L766.50 611.20L766.50 612.20L758.50 605.46ZM766.00 611.70L774.00 623.19L775.00 623.19L767.00 611.70ZM774.50 622.69L782.50 622.69L782.50 623.69L774.50 623.69ZM782.50 622.69L790.50 618.94L790.50 619.94L782.50 623.69ZM790.50 618.94L798.50 616.95L798.50 617.95L790.50 619.94ZM798.50 616.95L806.50 616.95L806.50 617.95L798.50 617.95ZM806.50 616.95L814.50 622.69L814.50 623.69L806.50 617.95ZM814.50 622.69L822.50 624.94L822.50 625.94L814.50 623.69ZM822.50 624.94L830.50 626.19L830.50 627.19L822.50 625.94ZM830.50 626.19L838.50 624.94L838.50 625.94L830.50 627.19ZM838.50 624.94L846.50 617.70L846.50 618.70L838.50 625.94ZM846.50 617.70L854.50 620.69L854.50 621.69L846.50 618.70ZM854.50 620.69L862.50 618.94L862.50 619.94L854.50 621.69ZM862.50 618.94L870.50 616.20L870.50 617.20L862.50 619.94ZM870.50 616.20L878.50 616.20L878.50 617.20L870.50 617.20ZM878.50 616.20L886.50 618.94L886.50 619.94L878.50 617.20ZM886.50 618.94L894.50 620.69L894.50 621.69L886.50 619.94ZM894.50 620.69L902.50 622.69L902.50 623.69L894.50 621.69ZM902.50 622.69L910.50 623.94L910.50 624.94L902.50 623.69ZM910.50 623.94L918.50 629.44L918.50 630.44L910.50 624.94ZM918.50 629.44L926.50 625.69L926.50 626.69L918.50 630.44ZM926.50 625.69L934.50 625.69L934.50 626.69L926.50 626.69ZM934.50 625.69L942.50 631.93L942.50 632.93L934.50 626.69ZM942.50 631.93L950.50 635.18L950.50 636.18L942.50 632.93ZM950.50 635.18L958.50 636.93L958.50 637.93L950.50 636.18ZM958.50 636.93L966.50 633.68L966.50 634.68L958.50 637.93ZM966.50 633.68L974.50 634.93L974.50 635.93L966.50 634.68ZM974.50 634.93L982.50 636.18L982.50 637.18L974.50 635.93ZM982.00 636.68L990.00 627.44L991.00 627.44L983.00 636.68ZM990.50 626.94L998.50 619.44L998.50 620.44L990.50 627.94ZM998.50 619.44L1006.50 626.44L1006.50 627.44L998.50 620.44ZM1006.50 626.44L1014.50 626.94L1014.50 627.94L1006.50 627.44ZM1014.50 626.94L1022.50 630.19L1022.50 631.19L1014.50 627.94ZM1022.50 630.19L1030.50 628.94L1030.50 629.94L1022.50 631.19ZM1030.50 628.94L1038.50 621.44L1038.50 622.44L1030.50 629.94ZM1038.50 621.44L1046.50 617.45L1046.50 618.45L1038.50 622.44ZM1046.50 617.45L1054.50 609.95L1054.50 610.95L1046.50 618.45ZM1054.50 609.95L1062.50 601.96L1062.50 602.96L1054.50 610.95ZM1062.50 601.96L1070.50 603.21L1070.50 604.21L1062.50 602.96ZM1070.50 603.21L1078.50 601.96L1078.50 602.96L1070.50 604.21ZM1078.50 601.96L1086.50 596.21L1086.50 597.21L1078.50 602.96ZM1086.50 596.21L1094.50 600.71L1094.50 601.71L1086.50 597.21ZM1094.50 600.71L1102.50 602.71L1102.50 603.71L1094.50 601.71ZM1102.50 602.71L1110.50 603.96L1110.50 604.96L1102.50 603.71ZM1110.50 603.96L1118.50 602.71L1118.50 603.71L1110.50 604.96ZM1118.00 603.21L1126.00 593.71L1127.00 593.71L1119.00 603.21ZM1126.50 593.21L1134.50 591.46L1134.50 592.46L1126.50 594.21ZM1134.50 591.46L1142.50 590.22L1142.50 591.22L1134.50 592.46ZM1142.50 590.22L1150.50 586.97L1150.50 587.97L1142.50 591.22ZM1150.50 586.97L1158.50 583.72L1158.50 584.72L1150.50 587.97ZM1158.50 583.72L1166.50 583.72L1166.50 584.72L1158.50 584.72ZM1166.50 583.72L1174.50 583.97L1174.50 584.97L1166.50 584.72Z" fill="#1E90FF" stroke="none" shape-rendering="crispEdges"/>
<g shape-rendering="crispEdges" fill="#000">
<rect x="5" y="6" width="1189" height="1"/>
<rect x="5" y="6" width="1" height="662"/>
<rect x="1193" y="6" width="1" height="662"/>
<rect x="5" y="431" width="1189" height="1"/>
<rect x="5" y="433" width="1189" height="1"/>
<rect x="5" y="547" width="1189" height="1"/>
<rect x="5" y="549" width="1189" height="1"/>
<rect x="5" y="667" width="1189" height="1"/>
<rect x="4" y="432" width="1192" height="1" fill="#fff"/><rect x="4" y="548" width="1192" height="1" fill="#fff"/>
<rect x="6" y="668" width="1" height="3"/>
<rect x="70" y="668" width="1" height="3"/>
<rect x="134" y="668" width="1" height="3"/>
<rect x="198" y="668" width="1" height="3"/>
<rect x="262" y="668" width="1" height="3"/>
<rect x="326" y="668" width="1" height="3"/>
<rect x="390" y="668" width="1" height="3"/>
<rect x="454" y="668" width="1" height="3"/>
<rect x="518" y="668" width="1" height="3"/>
<rect x="582" y="668" width="1" height="3"/>
<rect x="646" y="668" width="1" height="3"/>
<rect x="710" y="668" width="1" height="3"/>
<rect x="774" y="668" width="1" height="3"/>
<rect x="838" y="668" width="1" height="3"/>
<rect x="902" y="668" width="1" height="3"/>
<rect x="966" y="668" width="1" height="3"/>
<rect x="1030" y="668" width="1" height="3"/>
<rect x="1094" y="668" width="1" height="3"/>
<rect x="1158" y="668" width="1" height="3"/>
<rect x="1194" y="32" width="2" height="1"/>
<rect x="1194" y="65" width="2" height="1"/>
<rect x="1194" y="98" width="2" height="1"/>
<rect x="1194" y="131" width="2" height="1"/>
<rect x="1194" y="164" width="2" height="1"/>
<rect x="1194" y="197" width="2" height="1"/>
<rect x="1194" y="230" width="2" height="1"/>
<rect x="1194" y="263" width="2" height="1"/>
<rect x="1194" y="296" width="2" height="1"/>
<rect x="1194" y="329" width="2" height="1"/>
<rect x="1194" y="362" width="2" height="1"/>
<rect x="1194" y="395" width="2" height="1"/>
<rect x="1194" y="428" width="2" height="1"/>
<rect x="1194" y="496" width="2" height="1"/>
<rect x="1194" y="435" width="1" height="1"/>
<rect x="1194" y="546" width="1" height="1"/>
<rect x="1194" y="551" width="1" height="1"/>
<rect x="1194" y="666" width="1" height="1"/>
</g>
<text xml:space="preserve" transform="translate(1198.8,36) scale(1,1.12)" textLength="32.6" lengthAdjust="spacingAndGlyphs">137.510</text>
<text xml:space="preserve" transform="translate(1198.8,69) scale(1,1.12)" textLength="32.6" lengthAdjust="spacingAndGlyphs">133.430</text>
<text xml:space="preserve" transform="translate(1198.8,102) scale(1,1.12)" textLength="32.6" lengthAdjust="spacingAndGlyphs">129.470</text>
<text xml:space="preserve" transform="translate(1198.8,168) scale(1,1.12)" textLength="32.6" lengthAdjust="spacingAndGlyphs">121.430</text>
<text xml:space="preserve" transform="translate(1198.8,201) scale(1,1.12)" textLength="32.6" lengthAdjust="spacingAndGlyphs">117.350</text>
<text xml:space="preserve" transform="translate(1198.8,267) scale(1,1.12)" textLength="32.6" lengthAdjust="spacingAndGlyphs">109.430</text>
<text xml:space="preserve" transform="translate(1198.8,300) scale(1,1.12)" textLength="32.6" lengthAdjust="spacingAndGlyphs">105.350</text>
<text xml:space="preserve" transform="translate(1198.5,366) scale(1,1.12)" textLength="27.8" lengthAdjust="spacingAndGlyphs">97.310</text>
<text xml:space="preserve" transform="translate(1198.5,399) scale(1,1.12)" textLength="27.8" lengthAdjust="spacingAndGlyphs">93.350</text>
<text xml:space="preserve" transform="translate(1198.5,432) scale(1,1.12)" textLength="27.8" lengthAdjust="spacingAndGlyphs">89.390</text>
<g shape-rendering="crispEdges">
<rect x="1196" y="124" width="39" height="11" fill="#FF0000"/>
<rect x="1196" y="170" width="39" height="11" fill="#FF0000"/>
<rect x="1196" y="201" width="39" height="11" fill="#000"/>
<rect x="1196" y="227" width="39" height="11" fill="#00D000"/>
<rect x="1196" y="277" width="39" height="11" fill="#3F5AE0"/>
<rect x="1196" y="322" width="39" height="11" fill="#3F5AE0"/>
<rect x="1196" y="371" width="34" height="11" fill="#3F5AE0"/>
</g>
<text xml:space="preserve" transform="translate(1198.8,133) scale(1,1.12)" textLength="32.6" lengthAdjust="spacingAndGlyphs" class="w">125.500</text>
<text xml:space="preserve" transform="translate(1198.8,179) scale(1,1.12)" textLength="32.6" lengthAdjust="spacingAndGlyphs" class="w">120.000</text>
<text xml:space="preserve" transform="translate(1198.8,210) scale(1,1.12)" textLength="32.6" lengthAdjust="spacingAndGlyphs" class="w">116.320</text>
<text xml:space="preserve" transform="translate(1198.8,236) scale(1,1.12)" textLength="32.6" lengthAdjust="spacingAndGlyphs" class="w">113.000</text>
<text xml:space="preserve" transform="translate(1198.8,286) scale(1,1.12)" textLength="32.6" lengthAdjust="spacingAndGlyphs" class="w">107.000</text>
<text xml:space="preserve" transform="translate(1198.8,331) scale(1,1.12)" textLength="32.6" lengthAdjust="spacingAndGlyphs" class="w">101.500</text>
<text xml:space="preserve" transform="translate(1198.5,380) scale(1,1.12)" textLength="27.8" lengthAdjust="spacingAndGlyphs" class="w">95.500</text>
<text xml:space="preserve" transform="translate(1196.7,444) scale(1,1.12)" textLength="27.2" lengthAdjust="spacingAndGlyphs">6.1457</text>
<text xml:space="preserve" transform="translate(1196.7,500) scale(1,1.12)" textLength="17.3" lengthAdjust="spacingAndGlyphs">0.00</text>
<text xml:space="preserve" transform="translate(1196.7,544) scale(1,1.12)" textLength="30.5" lengthAdjust="spacingAndGlyphs">-4.9783</text>
<text xml:space="preserve" transform="translate(1197.4,560) scale(1,1.12)" textLength="13.7" lengthAdjust="spacingAndGlyphs">100</text>
<text xml:space="preserve" transform="translate(1196,589) scale(1,1.12)" textLength="9" lengthAdjust="spacingAndGlyphs">70</text>
<text xml:space="preserve" transform="translate(1196,636) scale(1,1.12)" textLength="9" lengthAdjust="spacingAndGlyphs">30</text>
<text xml:space="preserve" transform="translate(1197,664) scale(1,1.12)" textLength="4.2" lengthAdjust="spacingAndGlyphs">0</text>
<text xml:space="preserve" transform="translate(5.7,680) scale(1,1.12)" textLength="50.4" lengthAdjust="spacingAndGlyphs">16 Feb 2022</text>
<text xml:space="preserve" transform="translate(69.7,680) scale(1,1.12)" textLength="54" lengthAdjust="spacingAndGlyphs">17 Feb 09:00</text>
<text xml:space="preserve" transform="translate(133.7,680) scale(1,1.12)" textLength="54" lengthAdjust="spacingAndGlyphs">18 Feb 17:00</text>
<text xml:space="preserve" transform="translate(197.7,680) scale(1,1.12)" textLength="54" lengthAdjust="spacingAndGlyphs">21 Feb 20:00</text>
<text xml:space="preserve" transform="translate(261.7,680) scale(1,1.12)" textLength="54" lengthAdjust="spacingAndGlyphs">23 Feb 05:00</text>
<text xml:space="preserve" transform="translate(325.7,680) scale(1,1.12)" textLength="54" lengthAdjust="spacingAndGlyphs">24 Feb 17:00</text>
<text xml:space="preserve" transform="translate(389.7,680) scale(1,1.12)" textLength="54" lengthAdjust="spacingAndGlyphs">27 Feb 23:00</text>
<text xml:space="preserve" transform="translate(453.7,680) scale(1,1.12)" textLength="48.5" lengthAdjust="spacingAndGlyphs">1 Mar 05:00</text>
<text xml:space="preserve" transform="translate(517.7,680) scale(1,1.12)" textLength="48.5" lengthAdjust="spacingAndGlyphs">2 Mar 13:00</text>
<text xml:space="preserve" transform="translate(581.7,680) scale(1,1.12)" textLength="48.5" lengthAdjust="spacingAndGlyphs">3 Mar 21:00</text>
<text xml:space="preserve" transform="translate(645.7,680) scale(1,1.12)" textLength="48.5" lengthAdjust="spacingAndGlyphs">7 Mar 00:00</text>
<text xml:space="preserve" transform="translate(709.7,680) scale(1,1.12)" textLength="48.5" lengthAdjust="spacingAndGlyphs">8 Mar 09:00</text>
<text xml:space="preserve" transform="translate(773.7,680) scale(1,1.12)" textLength="48.5" lengthAdjust="spacingAndGlyphs">9 Mar 17:00</text>
<text xml:space="preserve" transform="translate(837.7,680) scale(1,1.12)" textLength="54" lengthAdjust="spacingAndGlyphs">11 Mar 01:00</text>
<text xml:space="preserve" transform="translate(901.7,680) scale(1,1.12)" textLength="54" lengthAdjust="spacingAndGlyphs">14 Mar 04:00</text>
<text xml:space="preserve" transform="translate(965.7,680) scale(1,1.12)" textLength="54" lengthAdjust="spacingAndGlyphs">15 Mar 12:00</text>
<text xml:space="preserve" transform="translate(1029.7,680) scale(1,1.12)" textLength="54" lengthAdjust="spacingAndGlyphs">16 Mar 20:00</text>
<text xml:space="preserve" transform="translate(1093.7,680) scale(1,1.12)" textLength="54" lengthAdjust="spacingAndGlyphs">18 Mar 04:00</text>
<text xml:space="preserve" transform="translate(1157.7,680) scale(1,1.12)" textLength="54" lengthAdjust="spacingAndGlyphs">21 Mar 16:00</text>
<path d="M9 13h8l-4 4.2z" fill="#000"/>
<text xml:space="preserve" transform="translate(20.6,18) scale(1,1.12)" textLength="43.4" lengthAdjust="spacingAndGlyphs">UKOil-,H4</text>
<text xml:space="preserve" transform="translate(71,18) scale(1,1.12)" textLength="139.3" lengthAdjust="spacingAndGlyphs">116.320 116.320 116.320 116.320</text>
<text xml:space="preserve" transform="translate(9.3,446) scale(1,1.12)" textLength="66.3" lengthAdjust="spacingAndGlyphs">MACD(12,26,9)</text>
<text xml:space="preserve" transform="translate(78.3,446) scale(1,1.12)" textLength="59" lengthAdjust="spacingAndGlyphs">2.7211 1.3748</text>
<text xml:space="preserve" transform="translate(9.5,562) scale(1,1.12)" textLength="67.5" lengthAdjust="spacingAndGlyphs">RSI(14) 70.7527</text>
<text class="cj" x="219.2" y="78.6" letter-spacing="-0.7">多空转折点<tspan letter-spacing="0" font-size="37.5" dy="-1" dx="-0.8" textLength="50.5" lengthAdjust="spacingAndGlyphs">113</tspan></text>
</svg></body></html>
